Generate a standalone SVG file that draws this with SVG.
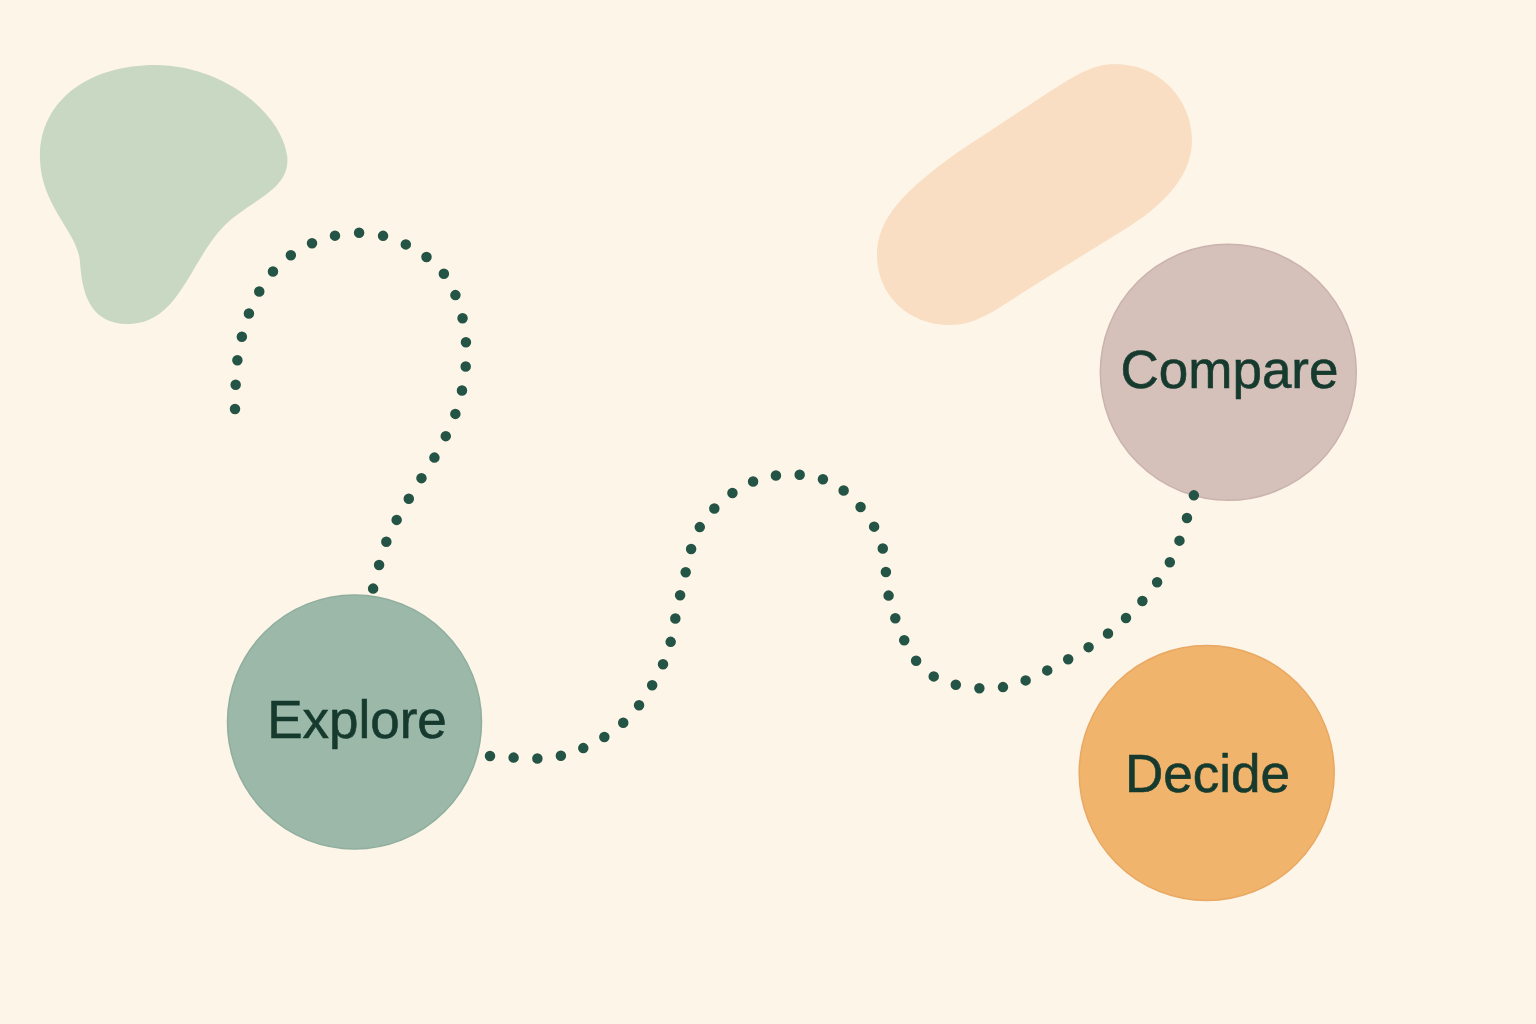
<svg xmlns="http://www.w3.org/2000/svg" width="1536" height="1024" viewBox="0 0 1536 1024">
  <style>
    .label { font-family: "Liberation Sans", Arial, sans-serif; font-size: 53px; fill: #163A2E; stroke: #163A2E; stroke-width: 0.6; text-anchor: middle; }
    .dots { fill: none; stroke: #245445; stroke-width: 10.5; stroke-linecap: round; stroke-dasharray: 0 1; }
  </style>
  <rect width="1536" height="1024" fill="#FDF5E8"/>
  <g id="decor">
    <path id="blob-green" d="M155,65 C220,65 280,110 287,155 C292,190 250,200 225,225 C190,260 180,322 130,324 C88,325 82,290 80,262 C78,232 42,208 40,160 C38,100 90,65 155,65 Z" fill="#C9D8C2"/>
    <path id="blob-peach" d="M1115,64 C1160,64 1192,100 1192,140 C1192,172 1170,200 1130,226 L1030,288 C1000,307 978,325 950,325 C908,325 877,295 877,255 C877,218 905,190 958,152 L1040,98 C1068,80 1090,64 1115,64 Z" fill="#F9DEC3"/>
  </g>
  <g id="node-explore">
    <circle cx="354.5" cy="722" r="127" fill="#9BB8A9" stroke="#8FAE9E" stroke-width="1.5"/>
    <text class="label" x="357" y="738">Explore</text>
  </g>
  <g id="node-compare">
    <circle cx="1228.3" cy="372.3" r="128" fill="#D5C0BA" stroke="#CBB3AD" stroke-width="1.5"/>
    <text class="label" x="1229.5" y="388">Compare</text>
  </g>
  <g id="node-decide">
    <circle cx="1206.7" cy="773" r="127.5" fill="#F0B46D" stroke="#E9A862" stroke-width="1.5"/>
    <text class="label" x="1207.5" y="792">Decide</text>
  </g>
  <g id="connectors">
    <path class="dots" pathLength="28.02" d="M235,409 C235.5,400.2 235.2,373.2 238,356 C240.8,338.8 245.2,321.2 252,306 C258.8,290.8 267.7,276 279,265 C290.3,254 305.5,245.3 320,240 C334.5,234.7 351.2,232 366,233 C380.8,234 396,239.2 409,246 C422,252.8 435.2,262.3 444,274 C452.8,285.7 458.3,301.3 462,316 C465.7,330.7 466.8,346.5 466,362 C465.2,377.5 461.8,393.8 457,409 C452.2,424.2 444.7,438.7 437,453 C429.3,467.3 419.3,480.5 411,495 C402.7,509.5 393.3,524.3 387,540 C380.7,555.7 375.3,580.8 373,589"/>
    <path class="dots" pathLength="46.02" d="M490,756 C501.7,756 537.8,761.5 560,756 C582.2,750.5 605.7,738.7 623,723 C640.3,707.3 654.3,683.8 664,662 C673.7,640.2 674.5,615.3 681,592 C687.5,568.7 689.8,540.8 703,522 C716.2,503.2 738.8,485.7 760,479 C781.2,472.3 810.3,472.8 830,482 C849.7,491.2 867.7,512.8 878,534 C888.3,555.2 883.8,586 892,609 C900.2,632 909.7,658.8 927,672 C944.3,685.2 973,689.8 996,688 C1019,686.2 1043.5,672.5 1065,661 C1086.5,649.5 1107.5,635.5 1125,619 C1142.5,602.5 1158.5,582.7 1170,562 C1181.5,541.3 1190,506.2 1194,495"/>
  </g>
</svg>
